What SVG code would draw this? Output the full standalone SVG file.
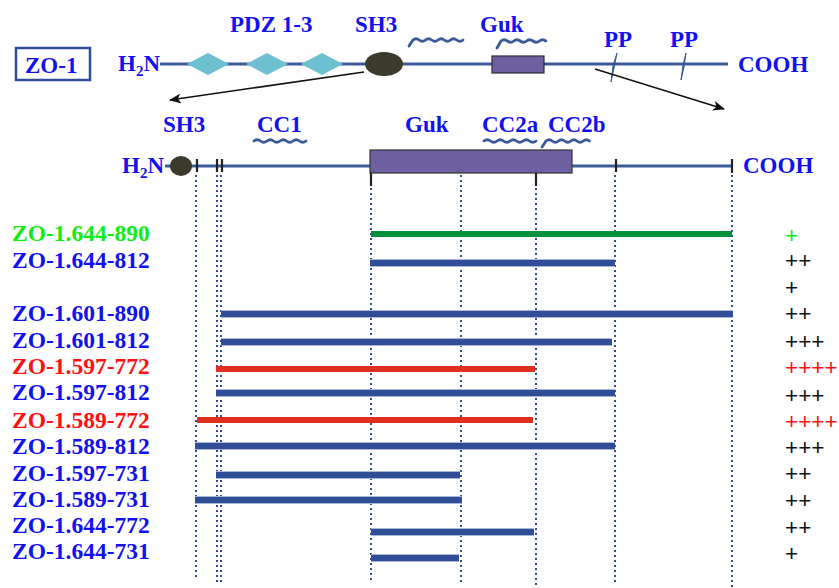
<svg xmlns="http://www.w3.org/2000/svg" width="839" height="588" viewBox="0 0 839 588">
<style>
text{font-family:"Liberation Serif","Times New Roman",serif;font-weight:bold;font-size:23px}
.lbl{font-size:23.5px}
.b{fill:#1010f0}
.r{fill:#ff1010}
.g{fill:#10ee10}
.pl{font-family:"Liberation Sans",Arial,sans-serif;font-weight:normal;font-size:22.5px}
.k{fill:#111}
.axis{stroke:#3a5a9a;stroke-width:3;fill:none}
.tick{stroke:#222;stroke-width:2.2}
.dot{stroke:#2e4d96;stroke-width:2;stroke-dasharray:2 3;fill:none}
.wave{stroke:#3a5a9a;stroke-width:2.8;fill:none;stroke-linecap:round}
.bar{stroke-width:6;stroke-linecap:butt}
.bb{stroke:#2f4e97}
.br{stroke:#df2f1f}
.bg{stroke:#00913f}
.halo{stroke:#a9b6d6;stroke-width:8}
.arrow{stroke:#111;stroke-width:1.5;fill:none;marker-end:url(#ah)}
</style>
<defs>
<marker id="ah" viewBox="0 0 12 10" refX="11" refY="5" markerWidth="12" markerHeight="10" markerUnits="userSpaceOnUse" orient="auto">
<path d="M0,0 L12,5 L0,10 L3,5 Z" fill="#111"/>
</marker>
</defs>

<g id="zo1-label">
<rect x="16" y="48" width="74" height="32" fill="none" stroke="#2e4d96" stroke-width="2.5"/>
<text class="b" x="25" y="73" font-size="22">ZO-1</text>
</g>
<g id="top-protein">
<text class="b" x="118" y="71">H<tspan font-size="15" dy="5">2</tspan><tspan dy="-5">N</tspan></text>
<line class="axis" x1="160" y1="64" x2="728" y2="64"/>
<text class="b" x="738" y="72">COOH</text>
</g>
<g id="pdz">
<path d="M187,64 L208,53 L229,64 L208,75 Z M246,64 L267,53 L288,64 L267,75 Z M301,64 L322,53 L343,64 L322,75 Z" fill="#6cc0d0"/>
<text class="b" x="230" y="32">PDZ 1-3</text>
</g>
<g id="sh3-top">
<ellipse cx="384" cy="64" rx="19" ry="12" fill="#3c3a2a"/>
<text class="b" x="355" y="32">SH3</text>
</g>
<g id="cc-top">
<path class="wave" d="M409,46 L413,40 q3,-2.5 6.25,0 t6.25,0 t6.25,0 t6.25,0 t6.25,0 t6.25,0 t6.25,0 t6.25,0"/>
<path class="wave" d="M497,48 L501,41 q3,-2.5 6.4,0 t6.4,0 t6.4,0 t6.4,0 t6.4,0 t6.4,0 t6.4,0"/>
</g>
<g id="guk-top">
<rect x="492" y="56" width="52" height="17" fill="#6e5fa0" stroke="#2a2a3a" stroke-width="1.2"/>
<text class="b" x="480" y="32">Guk</text>
</g>
<g id="pp">
<path d="M617,53 L613,66 L611,82 L614,68 Z M686,53 L683,65 L681,80 L684,67 Z" fill="#3a5a9a" stroke="#3a5a9a" stroke-width="1"/>
<text class="b" x="604" y="47">PP</text>
<text class="b" x="670" y="47">PP</text>
</g>

<g id="connectors">
<line class="arrow" x1="364" y1="72" x2="170" y2="100"/>
<line class="arrow" x1="595" y1="69" x2="724" y2="109"/>
</g>

<g id="detail-protein">
<text class="b" x="122" y="173">H<tspan font-size="15" dy="5">2</tspan><tspan dy="-5">N</tspan></text>
<line class="axis" x1="165" y1="166" x2="732" y2="166" stroke-width="2.5"/>
<text class="b" x="743" y="173">COOH</text>
<ellipse cx="181" cy="166" rx="11" ry="10" fill="#3c3a2a"/>
<text class="b" x="163" y="132">SH3</text>
<line class="tick" x1="197" y1="159" x2="197" y2="172"/>
<line class="tick" x1="217" y1="159" x2="217" y2="172"/>
<line class="tick" x1="222" y1="159" x2="222" y2="172"/>
<rect x="370" y="150" width="202" height="23" fill="#6e5fa0" stroke="#333" stroke-width="1.2"/>
<line class="tick" x1="371" y1="173" x2="371" y2="186"/>
<line class="tick" x1="536" y1="173" x2="536" y2="186"/>
<line class="tick" x1="616" y1="159" x2="616" y2="172"/>
<line class="tick" x1="732" y1="159" x2="732" y2="173"/>
<text class="b" x="405" y="132">Guk</text>
<text class="b" x="257" y="132">CC1</text>
<text class="b" x="482" y="132">CC2a</text>
<text class="b" x="548" y="132">CC2b</text>
<path class="wave" d="M254,141 q3.25,-2.5 6.5,0 t6.5,0 t6.5,0 t6.5,0 t6.5,0 t6.5,0 t6.5,0 t6.5,0"/>
<path class="wave" d="M484,141 q3.25,-2.5 6.5,0 t6.5,0 t6.5,0 t6.5,0 t6.5,0 t6.5,0 t6.5,0 t6.5,0"/>
<path class="wave" d="M542,147 L546,141 q3.1,-2.5 6.2,0 t6.2,0 t6.2,0 t6.2,0 t6.2,0 t6.2,0 t6.2,0"/>
</g>

<g id="guides">
<line class="dot" x1="196" y1="175" x2="196" y2="580"/>
<line class="dot" x1="217" y1="175" x2="217" y2="582"/>
<line class="dot" x1="221" y1="175" x2="221" y2="582"/>
<line class="dot" x1="371" y1="188" x2="371" y2="580"/>
<line class="dot" x1="461" y1="175" x2="461" y2="582"/>
<line class="dot" x1="536" y1="188" x2="536" y2="585"/>
<line class="dot" x1="615" y1="175" x2="615" y2="585"/>
<line class="dot" x1="732" y1="175" x2="732" y2="588"/>
</g>

<g id="c-644-890"><text class="g lbl" x="12" y="241">ZO-1.644-890</text><line class="bar bg" x1="371" y1="234" x2="732" y2="234"/><text class="pl g" x="785" y="243">+</text></g>
<g id="c-644-812"><text class="b lbl" x="12" y="268">ZO-1.644-812</text><line class="bar halo" x1="370" y1="263" x2="615" y2="263"/><line class="bar bb" x1="370" y1="263" x2="615" y2="263"/><text class="pl k" x="785" y="268">++</text></g>
<g id="c-extra"><text class="pl k" x="785" y="295">+</text></g>
<g id="c-601-890"><text class="b lbl" x="12" y="321">ZO-1.601-890</text><line class="bar halo" x1="221" y1="314" x2="733" y2="314"/><line class="bar bb" x1="221" y1="314" x2="733" y2="314"/><text class="pl k" x="785" y="321">++</text></g>
<g id="c-601-812"><text class="b lbl" x="12" y="348">ZO-1.601-812</text><line class="bar halo" x1="221" y1="342" x2="612" y2="342"/><line class="bar bb" x1="221" y1="342" x2="612" y2="342"/><text class="pl k" x="785" y="349">+++</text></g>
<g id="c-597-772"><text class="r lbl" x="12" y="374">ZO-1.597-772</text><line class="bar br" x1="216" y1="369" x2="535" y2="369"/><text class="pl r" x="785" y="375">++++</text></g>
<g id="c-597-812"><text class="b lbl" x="12" y="400">ZO-1.597-812</text><line class="bar halo" x1="216" y1="393" x2="615" y2="393"/><line class="bar bb" x1="216" y1="393" x2="615" y2="393"/><text class="pl k" x="785" y="403">+++</text></g>
<g id="c-589-772"><text class="r lbl" x="12" y="428">ZO-1.589-772</text><line class="bar br" x1="197" y1="420" x2="533" y2="420"/><text class="pl r" x="785" y="429">++++</text></g>
<g id="c-589-812"><text class="b lbl" x="12" y="454">ZO-1.589-812</text><line class="bar halo" x1="195" y1="446" x2="615" y2="446"/><line class="bar bb" x1="195" y1="446" x2="615" y2="446"/><text class="pl k" x="785" y="455">+++</text></g>
<g id="c-597-731"><text class="b lbl" x="12" y="481">ZO-1.597-731</text><line class="bar halo" x1="216" y1="475" x2="460" y2="475"/><line class="bar bb" x1="216" y1="475" x2="460" y2="475"/><text class="pl k" x="785" y="481">++</text></g>
<g id="c-589-731"><text class="b lbl" x="12" y="507">ZO-1.589-731</text><line class="bar halo" x1="195" y1="500" x2="462" y2="500"/><line class="bar bb" x1="195" y1="500" x2="462" y2="500"/><text class="pl k" x="785" y="508">++</text></g>
<g id="c-644-772"><text class="b lbl" x="12" y="533">ZO-1.644-772</text><line class="bar halo" x1="371" y1="532" x2="534" y2="532"/><line class="bar bb" x1="371" y1="532" x2="534" y2="532"/><text class="pl k" x="785" y="535">++</text></g>
<g id="c-644-731"><text class="b lbl" x="12" y="559">ZO-1.644-731</text><line class="bar halo" x1="371" y1="558" x2="459" y2="558"/><line class="bar bb" x1="371" y1="558" x2="459" y2="558"/><text class="pl k" x="785" y="561">+</text></g>
</svg>
